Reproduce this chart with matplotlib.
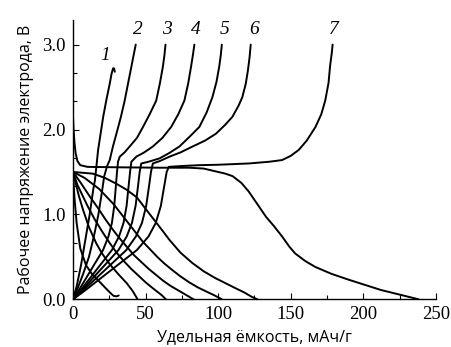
import matplotlib
matplotlib.use("Agg")
import matplotlib.pyplot as plt
from matplotlib.ticker import MultipleLocator

# Charge curves (capacity, mAh/g ; voltage, V)
ch1_q = [0, 2.5, 5.5, 8.5, 11.5, 14, 15.1, 16.2, 17.3, 19, 20.8, 23, 25.3, 26.6, 27.6, 28.3, 28.8]
ch1_v = [0, 0.15, 0.4, 0.7, 1.0, 1.3, 1.4, 1.58, 1.76, 1.95, 2.15, 2.35, 2.54, 2.66, 2.72, 2.72, 2.68]
ch2_q = [0, 3, 7, 11, 14.5, 17.5, 19.8, 21.5, 23.5, 25.3, 27.5, 29.9, 33, 35.6, 38, 40.2, 41.8, 43.2]
ch2_v = [0, 0.12, 0.3, 0.5, 0.75, 1.0, 1.25, 1.45, 1.57, 1.64, 1.8, 1.95, 2.15, 2.34, 2.55, 2.74, 2.88, 3.0]
ch3_q = [0, 3.8, 9.4, 15, 20.7, 24.4, 26.8, 28.4, 29.6, 30.3, 31, 32.2, 35.5, 39, 44, 48.2, 52.8, 57.3, 59.8, 61.9, 63, 63.7]
ch3_v = [0, 0.1, 0.26, 0.42, 0.58, 0.74, 0.9, 1.1, 1.35, 1.5, 1.62, 1.68, 1.73, 1.8, 1.9, 2.03, 2.18, 2.34, 2.54, 2.74, 2.88, 3.0]
ch4_q = [0, 4.9, 12.2, 19.5, 26.8, 31.7, 34.8, 36.9, 38.4, 39.3, 40.2, 43.6, 49, 55, 61.5, 67.6, 72.5, 76.7, 79.3, 81.3, 82.6, 83.6]
ch4_v = [0, 0.1, 0.26, 0.42, 0.58, 0.74, 0.9, 1.1, 1.35, 1.5, 1.62, 1.68, 1.73, 1.8, 1.9, 2.03, 2.18, 2.34, 2.54, 2.74, 2.88, 3.0]
ch5_q = [0, 5.7, 14.2, 22.8, 31.3, 37, 40.6, 43.1, 44.9, 45.9, 47, 52, 59.6, 66, 73.3, 80, 87, 92, 96, 98.8, 100.7, 101.8, 102.5]
ch5_v = [0, 0.1, 0.26, 0.42, 0.58, 0.74, 0.9, 1.1, 1.35, 1.5, 1.6, 1.62, 1.66, 1.72, 1.8, 1.91, 2.03, 2.2, 2.38, 2.56, 2.74, 2.88, 3.0]
ch6_q = [0, 6.7, 16.7, 26.7, 36.7, 43.3, 47.5, 50.4, 52.5, 53.7, 55, 60, 66.4, 74, 82.4, 91, 98.4, 104.5, 109.8, 114, 116.6, 119, 120.5, 121.6, 122.4]
ch6_v = [0, 0.1, 0.26, 0.42, 0.58, 0.74, 0.9, 1.1, 1.35, 1.5, 1.6, 1.63, 1.68, 1.73, 1.8, 1.87, 1.95, 2.05, 2.15, 2.28, 2.38, 2.54, 2.7, 2.85, 3.0]
ch7_q = [0, 8, 20, 32, 44, 52, 57, 60.5, 63, 64.5, 66, 75, 87, 100, 121, 135, 144, 150, 155.5, 161, 167, 171, 173.7, 176, 177, 178.2, 178.8]
ch7_v = [0, 0.1, 0.26, 0.42, 0.58, 0.74, 0.9, 1.1, 1.35, 1.5, 1.56, 1.57, 1.58, 1.585, 1.6, 1.62, 1.64, 1.69, 1.76, 1.87, 2.03, 2.18, 2.34, 2.55, 2.74, 2.9, 3.0]

# Discharge curves
dis1_q = [0, 0.5, 1, 2.5, 5, 9, 13, 17, 22, 26, 28, 30, 31.5]
dis1_v = [1.5, 1.35, 1.2, 0.9, 0.6, 0.4, 0.3, 0.23, 0.14, 0.07, 0.04, 0.035, 0.045]
dis2_q = [0, 1.4, 4, 7, 11, 16, 20, 25, 31, 37, 41, 44.5]
dis2_v = [1.5, 1.4, 1.22, 1.05, 0.85, 0.66, 0.54, 0.42, 0.3, 0.19, 0.1, 0]
dis3_q = [0, 3, 10, 15, 20, 25, 30, 35, 40, 45, 50, 55, 58, 61, 64]
dis3_v = [1.5, 1.35, 1.1, 0.94, 0.8, 0.67, 0.55, 0.45, 0.36, 0.28, 0.2, 0.13, 0.09, 0.05, 0]
dis4_q = [0, 5, 12, 17, 22, 27, 32, 37, 42, 47, 52, 57, 62, 67, 72, 77, 83]
dis4_v = [1.5, 1.38, 1.2, 1.08, 0.95, 0.83, 0.72, 0.62, 0.52, 0.44, 0.36, 0.29, 0.22, 0.16, 0.11, 0.06, 0]
dis5_q = [0, 8, 18, 28, 33, 38, 43, 48, 53, 58, 63, 68, 74, 80, 86, 92, 97, 102.5]
dis5_v = [1.5, 1.43, 1.3, 1.12, 1.01, 0.9, 0.79, 0.68, 0.59, 0.5, 0.42, 0.35, 0.27, 0.2, 0.14, 0.09, 0.05, 0]
dis6_q = [0, 7, 13.7, 22, 30, 37, 44, 50.7, 57.5, 62, 66.4, 74, 82, 90, 98, 105, 112, 118, 123, 127]
dis6_v = [1.5, 1.49, 1.48, 1.43, 1.36, 1.29, 1.2, 1.05, 0.9, 0.8, 0.7, 0.55, 0.43, 0.33, 0.25, 0.19, 0.13, 0.08, 0.03, 0]
dis7_q = [0, 0.4, 1.0, 1.8, 3, 5, 10, 30, 60, 80, 90, 100, 105, 110, 116, 121, 127, 133, 138.5, 144, 149, 153,
          160, 167, 178, 190, 201, 212, 225, 238]
dis7_v = [2.15, 2.0, 1.85, 1.72, 1.63, 1.58, 1.56, 1.555, 1.55, 1.55, 1.54, 1.5, 1.48, 1.45, 1.37, 1.27, 1.12, 0.97,
          0.86, 0.74, 0.62, 0.54, 0.45, 0.38, 0.3, 0.23, 0.17, 0.11, 0.055, 0]

charges = [(ch1_q, ch1_v), (ch2_q, ch2_v), (ch3_q, ch3_v), (ch4_q, ch4_v),
           (ch5_q, ch5_v), (ch6_q, ch6_v), (ch7_q, ch7_v)]
discharges = [(dis1_q, dis1_v), (dis2_q, dis2_v), (dis3_q, dis3_v), (dis4_q, dis4_v),
              (dis5_q, dis5_v), (dis6_q, dis6_v), (dis7_q, dis7_v)]

curve_labels = ["1", "2", "3", "4", "5", "6", "7"]
label_q = [22, 45, 64.5, 84.7, 104.7, 124.7, 179.8]
label_v = [2.87, 3.18, 3.18, 3.18, 3.18, 3.18, 3.18]

fig = plt.figure(figsize=(4.52, 3.47), dpi=100)
ax = fig.add_axes([73 / 452, (347 - 299.3) / 347, (436 - 73) / 452, (299.3 - 20) / 347])

for q, v in charges + discharges:
    ax.plot(q, v, color="black", lw=1.4, solid_capstyle="round", solid_joinstyle="round")

for t, x, y in zip(curve_labels, label_q, label_v):
    ax.text(x, y, t, fontsize=14, family="Liberation Serif", style="italic",
            ha="center", va="center")

ax.set_xlim(0, 250)
ax.set_ylim(0, 3.29)
ax.xaxis.set_major_locator(MultipleLocator(50))
ax.xaxis.set_minor_locator(MultipleLocator(25))
ax.yaxis.set_major_locator(MultipleLocator(1.0))
ax.yaxis.set_minor_locator(MultipleLocator(1 / 3))
ax.yaxis.set_major_formatter(plt.FuncFormatter(lambda v, _: f"{v:.1f}"))
ax.tick_params(which="both", direction="in", width=0.8)
ax.tick_params(which="major", length=4, labelsize=13.5, pad=5)
ax.tick_params(which="minor", length=3)
for lab in ax.get_xticklabels() + ax.get_yticklabels():
    lab.set_family("Liberation Serif")
for s in ("top", "right"):
    ax.spines[s].set_visible(False)
for s in ("left", "bottom"):
    ax.spines[s].set_linewidth(1.0)

ax.set_xlabel("Удельная ёмкость, мАч/г", family="Open Sans", fontsize=11.5, labelpad=4)
ax.set_ylabel("Рабочее напряжение электрода, В", family="Open Sans", fontsize=11.5, labelpad=6)

fig.savefig("out.png", dpi=100)
